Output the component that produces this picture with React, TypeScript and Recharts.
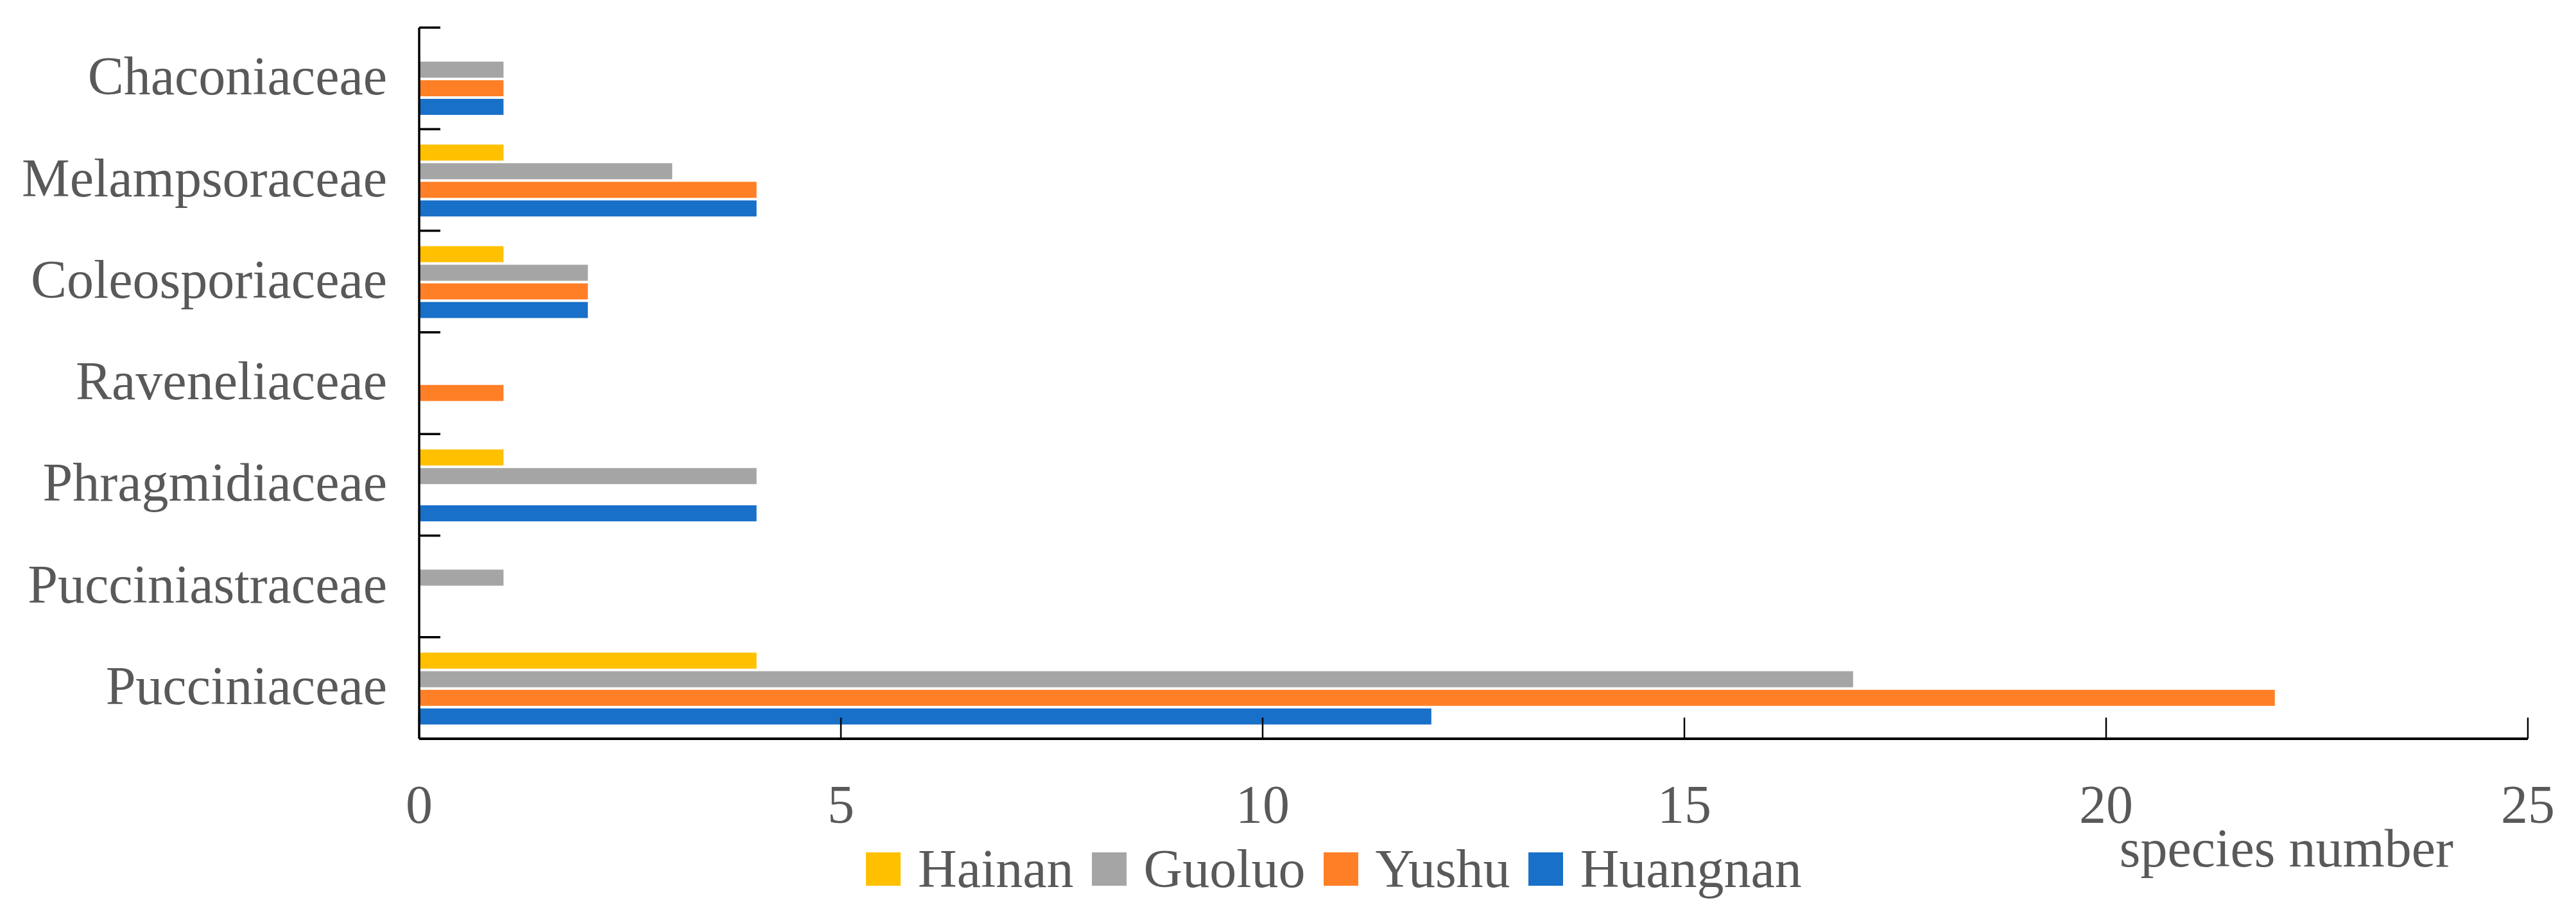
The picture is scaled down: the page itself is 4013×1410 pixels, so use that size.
import React from 'react';
import { BarChart, Bar, XAxis, YAxis, Legend } from 'recharts';

// rust fungi families, top to bottom
const families = [
  'Chaconiaceae',
  'Melampsoraceae',
  'Coleosporiaceae',
  'Raveneliaceae',
  'Phragmidiaceae',
  'Pucciniastraceae',
  'Pucciniaceae',
];

// species number per region
const hainan = [0, 1, 1, 0, 1, 0, 4];
const guoluo = [1, 3, 2, 0, 4, 1, 17];
const yushu = [1, 4, 2, 1, 0, 0, 22];
const huangnan = [1, 4, 2, 0, 4, 0, 12];

const xTicks = [0, 5, 10, 15, 20, 25];

const series = [
  { key: 'Hainan', color: '#FFC000' },
  { key: 'Guoluo', color: '#A5A5A5' },
  { key: 'Yushu', color: '#FF7F27' },
  { key: 'Huangnan', color: '#1870C8' },
];

const FONT = '"Liberation Serif", "Times New Roman", serif';
const TEXT = '#595959';

const data = families.map((name, i) => ({
  name,
  Hainan: hainan[i],
  Guoluo: guoluo[i],
  Yushu: yushu[i],
  Huangnan: huangnan[i],
}));

const CategoryTick = (props: any) => {
  const { x, y, payload } = props;
  const half = payload.offset || 0;
  return (
    <g>
      <line x1={x} y1={y - half} x2={x + 33} y2={y - half} stroke="#000" strokeWidth={3.5} />
      <text x={x - 50} y={y} dy="0.3em" textAnchor="end" style={{ fontFamily: FONT }} fontSize={84} fill={TEXT}>
        {payload.value}
      </text>
    </g>
  );
};

const ValueTick = (props: any) => {
  const { x, y, payload } = props;
  return (
    <g>
      <line x1={x} y1={y} x2={x} y2={y - 33} stroke="#000" strokeWidth={2.5} />
      <text x={x} y={y + 131} textAnchor="middle" style={{ fontFamily: FONT }} fontSize={84} fill={TEXT}>
        {payload.value}
      </text>
    </g>
  );
};

const AxisTitle = (props: any) => {
  const { viewBox } = props;
  return (
    <text
      x={viewBox.x + viewBox.width - 116}
      y={viewBox.y + 199}
      textAnchor="end"
      style={{ fontFamily: FONT }}
      fontSize={84}
      fill={TEXT}
    >
      species number
    </text>
  );
};

// legend keeps the series order (recharts would sort it by name)
const renderLegend = () => (
  <div style={{ display: 'flex', alignItems: 'center', height: 84, fontFamily: FONT, fontSize: 84, lineHeight: '84px', color: TEXT }}>
    {series.map((s) => (
      <div key={s.key} style={{ display: 'flex', alignItems: 'center', marginRight: 28 }}>
        <span style={{ display: 'inline-block', width: 54, height: 52, background: s.color, marginRight: 27 }} />
        <span>{s.key}</span>
      </div>
    ))}
  </div>
);

export default function App() {
  return (
    <div style={{ position: 'absolute', left: 0, top: 0, width: 4013, height: 1410, background: '#fff' }}>
      <BarChart
        width={4013}
        height={1410}
        data={data}
        layout="vertical"
        margin={{ top: 43, right: 75, left: 0, bottom: 0 }}
        barCategoryGap={24}
        barGap={4}
      >
        <XAxis
          type="number"
          domain={[0, 25]}
          ticks={xTicks}
          interval={0}
          height={259}
          axisLine={{ stroke: '#000', strokeWidth: 4 }}
          tickLine={false}
          tickSize={0}
          tickMargin={0}
          tick={<ValueTick />}
          label={<AxisTitle />}
        />
        <YAxis
          type="category"
          dataKey="name"
          width={653}
          interval={0}
          axisLine={{ stroke: '#000', strokeWidth: 3.5 }}
          tickLine={false}
          tickSize={0}
          tickMargin={0}
          tick={<CategoryTick />}
        />
        <Legend
          layout="horizontal"
          verticalAlign="middle"
          align="center"
          content={renderLegend}
          wrapperStyle={{ left: 1349, top: 1312, width: 1700 }}
        />
        {series.map((s) => (
          <Bar key={s.key} dataKey={s.key} name={s.key} fill={s.color} isAnimationActive={false} />
        ))}
      </BarChart>
    </div>
  );
}
